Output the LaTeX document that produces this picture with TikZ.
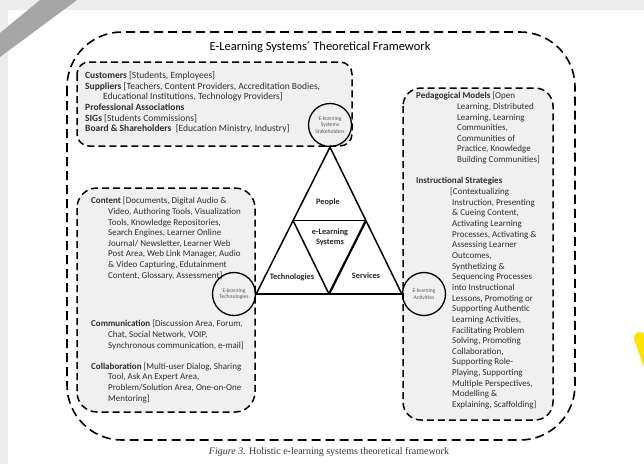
\documentclass[tikz,border=0pt]{standalone}
\usepackage{fontspec}
\setmainfont{Carlito}
\newfontfamily\capfont{Liberation Serif}
\usetikzlibrary{calc}

\begin{document}
\begin{tikzpicture}[x=1pt,y=-1pt,
    frame/.style={draw,line width=1.6pt,dash pattern=on 9pt off 5pt,rounded corners=55pt},
    area/.style={draw,fill=black!6,line width=1.5pt,dash pattern=on 7pt off 4pt},
    txt/.style={anchor=north west,inner sep=0pt,align=left,font=\fontsize{9}{10.65}\selectfont,text=black!82},
    hub/.style={circle,draw,line width=1.3pt,minimum size=43pt,inner sep=0pt,align=center,font=\fontsize{5.6}{6.6}\selectfont,text=black!65},
    part/.style={font=\bfseries\fontsize{8.3}{10}\selectfont,align=center,text=black!85},
    tri/.style={line width=1.5pt}]
    \useasboundingbox (0,0) rectangle (644,464);
    % page and screenshot edges
    \fill[black!7] (0,0) rectangle (644,464);
    \fill[white] (8,10) rectangle (644,464);
    \fill[black!35] (0,33) -- (40,0) -- (77,0) -- (0,57) -- cycle;
    \draw[line width=12pt,yellow!85!orange,line cap=round] (640,338) -- (652,372);

    % framework boxes
    \draw[frame] (67,32) rectangle (575,440);
    \node[font=\fontsize{12.5}{14}\selectfont] (title) at (320,47) {E-Learning Systems´ Theoretical Framework};
    \draw[area,rounded corners=12pt] (77,62) rectangle (352,146);
    \draw[area,rounded corners=20pt] (77,188) rectangle (255,412);
    \draw[area,rounded corners=18pt] (403,88) rectangle (553,420);

    \node[txt,font=\fontsize{9.5}{10.65}\selectfont] (people) at (85,71.5) {\textbf{Customers} [Students, Employees]\\
        \textbf{Suppliers} [Teachers, Content Providers, Accreditation Bodies,\\
        \hspace*{18pt}Educational Institutions, Technology Providers]\\
        \textbf{Professional Associations}\\
        \textbf{SIGs} [Students Commissions]\\
        \textbf{Board \& Shareholders}~ [Education Ministry, Industry]};

    \node[txt] (content) at (91,197) {\textbf{Content} [Documents, Digital Audio \&\\
        \hspace*{17pt}Video, Authoring Tools, Visualization\\
        \hspace*{17pt}Tools, Knowledge Repositories,\\
        \hspace*{17pt}Search Engines, Learner Online\\
        \hspace*{17pt}Journal/ Newsletter, Learner Web\\
        \hspace*{17pt}Post Area, Web Link Manager, Audio\\
        \hspace*{17pt}\& Video Capturing, Edutainment\\
        \hspace*{17pt}Content, Glossary, Assessment]};

    \node[txt] (comm) at (91,320) {\textbf{Communication} [Discussion Area, Forum,\\
        \hspace*{17pt}Chat, Social Network, VOIP,\\
        \hspace*{17pt}Synchronous communication, e-mail]\\[10.65pt]
        \textbf{Collaboration} [Multi-user Dialog, Sharing\\
        \hspace*{17pt}Tool, Ask An Expert Area,\\
        \hspace*{17pt}Problem/Solution Area, One-on-One\\
        \hspace*{17pt}Mentoring]};

    \node[txt] (pedag) at (416,92) {\textbf{Pedagogical Models} [Open\\
        \hspace*{41pt}Learning, Distributed\\
        \hspace*{41pt}Learning, Learning\\
        \hspace*{41pt}Communities,\\
        \hspace*{41pt}Communities of\\
        \hspace*{41pt}Practice, Knowledge\\
        \hspace*{41pt}Building Communities]\\[10.65pt]
        \textbf{Instructional Strategies}\\
        \hspace*{34pt}[Contextualizing\\
        \hspace*{36pt}Instruction, Presenting\\
        \hspace*{36pt}\& Cueing Content,\\
        \hspace*{36pt}Activating Learning\\
        \hspace*{36pt}Processes, Activating \&\\
        \hspace*{36pt}Assessing Learner\\
        \hspace*{36pt}Outcomes,\\
        \hspace*{36pt}Synthetizing \&\\
        \hspace*{36pt}Sequencing Processes\\
        \hspace*{36pt}into Instructional\\
        \hspace*{36pt}Lessons, Promoting or\\
        \hspace*{36pt}Supporting Authentic\\
        \hspace*{36pt}Learning Activities,\\
        \hspace*{36pt}Facilitating Problem\\
        \hspace*{36pt}Solving, Promoting\\
        \hspace*{36pt}Collaboration,\\
        \hspace*{36pt}Supporting Role-\\
        \hspace*{36pt}Playing, Supporting\\
        \hspace*{36pt}Multiple Perspectives,\\
        \hspace*{36pt}Modelling \&\\
        \hspace*{36pt}Explaining, Scaffolding]};

    % hubs and triangle
    \node[hub] (stake) at (330,125) {E-learning\\Systems\\Stakeholders};
    \node[hub] (tech)  at (234,294) {E-learning\\Technologies};
    \node[hub] (act)   at (424,294) {E-learning\\Activities};

    \coordinate (ml) at ($(stake.south)!0.5!(tech.east)$);
    \coordinate (mr) at ($(stake.south)!0.5!(act.west)$);
    \coordinate (mb) at ($(tech.east)!0.5!(act.west)$);

    \path [tri] (stake.south) edge (tech.east);
    \path [tri] (stake.south) edge (act.west);
    \path [tri] (tech.east) edge (act.west);
    \path [tri] (ml) edge (mr);
    \path [tri] (ml) edge (mb);
    \path [tri,line width=2.2pt] (mr) edge (mb);

    \node[part] (ppl) at (328,202) {People};
    \node[part] (sys) at (330,237) {e-Learning\\Systems};
    \node[part] (tec) at (292,277) {Technologies};
    \node[part] (srv) at (366,276) {Services};

    \node[font=\capfont\fontsize{10}{12}\selectfont,text=black!80] (cap) at (329,452) {\textit{Figure 3.} Holistic e-learning systems theoretical framework};
\end{tikzpicture}
\end{document}
